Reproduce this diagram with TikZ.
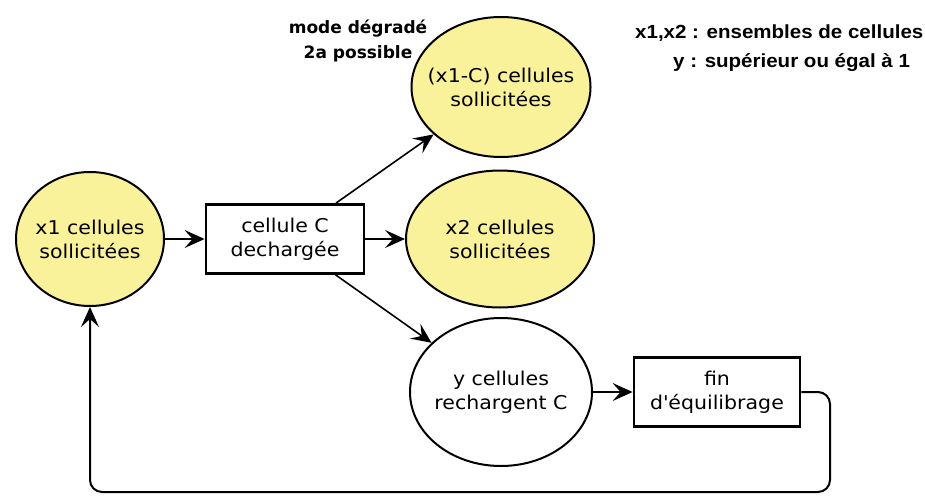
\documentclass[tikz,border=0pt]{standalone}
\usepackage{fontspec}
\newfontfamily\boxfont[FakeStretch=1.08]{DejaVu Sans}
\newfontfamily\notefont[FakeStretch=1.08]{Liberation Sans}
\usetikzlibrary{shapes.geometric, arrows.meta, positioning}
\definecolor{cellyellow}{RGB}{250,242,155}

\begin{document}
\begin{tikzpicture}[x=1pt, y=-1pt,
	cell/.style={draw, ellipse, line width=2pt, inner xsep=-14pt, inner ysep=0pt, align=center, font=\boxfont\fontsize{19}{24}\selectfont},
	box/.style={draw, rectangle, line width=2.8pt, inner sep=0pt, align=center, minimum width=158pt, minimum height=69pt, font=\boxfont\fontsize{19}{24}\selectfont},
	link/.style={-{Stealth[length=20pt, width=18pt, inset=8pt]}, line width=1.6pt},
	note/.style={inner sep=0pt, anchor=base west, font=\notefont\bfseries\fontsize{19}{28}\selectfont}]
	\useasboundingbox (0,0) rectangle (925,495);

	% Cells
	\node[cell, fill=cellyellow, minimum width=148pt, minimum height=134pt] (x1) at (90,239) {x1 cellules\\sollicitées};
	\node[box] (cc) at (285,239) {cellule C\\dechargée};
	\node[cell, fill=cellyellow, minimum width=179pt, minimum height=140pt] (x1c) at (501,87) {(x1-C) cellules\\sollicitées};
	\node[cell, fill=cellyellow, minimum width=188pt, minimum height=137pt] (x2) at (500,239) {x2 cellules\\sollicitées};
	\node[cell, fill=white, minimum width=182pt, minimum height=148pt] (yc) at (501,392) {y cellules\\rechargent C};
	\node[box, minimum width=166pt] (fin) at (717,392) {fin\\d\textquotesingle équilibrage};

	% Notes
	\node[inner sep=0pt, align=center, font=\fontspec{DejaVu Sans}\bfseries\fontsize{17}{25}\selectfont] (mode) at (358,41) {mode dégradé\\2a possible};
	\node[note] (legx) at (635,39) {x1,x2 : ensembles de cellules};
	\node[note] (legy) at (673,67) {y : supérieur ou égal à 1};

	% Arrows
	\draw[link] (x1) -- (cc);
	\draw[link] (cc) -- (x2);
	\draw[link] (cc) -- (x1c);
	\draw[link] (cc) -- (yc);
	\draw[link] (yc) -- (fin);

	% Loop back
	\coordinate (loopr) at (830,492);
	\coordinate (loopl) at (90,492);
	\draw[link, line width=2pt, rounded corners=12pt] (fin.east) -| (loopr) -- (loopl) -- (x1.south);
\end{tikzpicture}
\end{document}
